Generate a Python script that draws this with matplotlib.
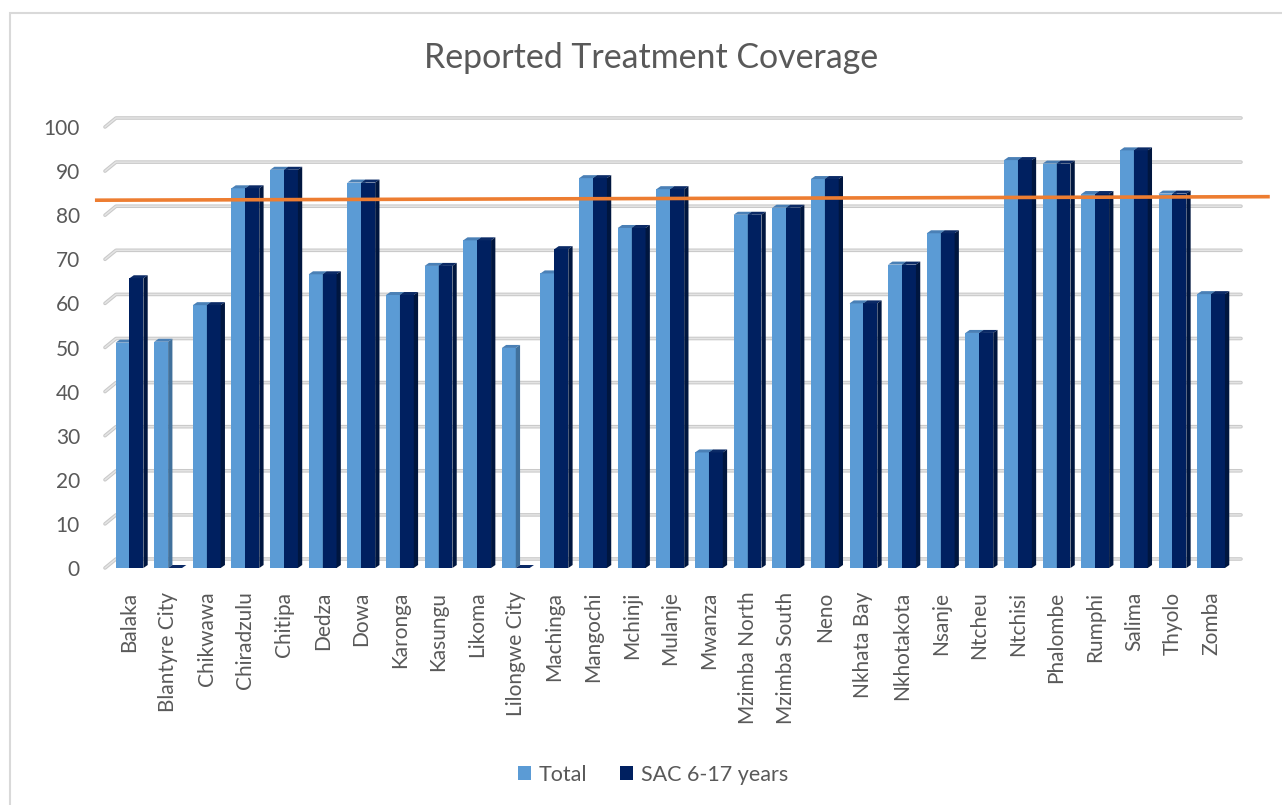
import matplotlib
matplotlib.use("Agg")
import matplotlib.pyplot as plt
from matplotlib.patches import Polygon, Rectangle, Patch
import numpy as np

plt.rcParams['font.family'] = ['Lato', 'DejaVu Sans']

districts = [
    "Balaka", "Blantyre City", "Chikwawa", "Chiradzulu", "Chitipa", "Dedza",
    "Dowa", "Karonga", "Kasungu", "Likoma", "Lilongwe City", "Machinga",
    "Mangochi", "Mchinji", "Mulanje", "Mwanza", "Mzimba North", "Mzimba South",
    "Neno", "Nkhata Bay", "Nkhotakota", "Nsanje", "Ntcheu", "Ntchisi",
    "Phalombe", "Rumphi", "Salima", "Thyolo", "Zomba",
]
total = [
    51.1, 51.3, 59.6, 86.1, 90.3, 66.6,
    87.4, 61.9, 68.5, 74.3, 49.9, 66.8,
    88.4, 77.1, 85.9, 26.2, 80.1, 81.7,
    88.2, 60.0, 68.8, 75.9, 53.3, 92.5,
    91.7, 84.8, 94.7, 84.9, 62.1,
]
sac = [
    65.7, 0.0, 59.6, 86.1, 90.3, 66.6,
    87.4, 61.9, 68.5, 74.3, 0.0, 72.3,
    88.4, 77.1, 85.9, 26.2, 80.1, 81.7,
    88.2, 60.0, 68.8, 75.9, 53.3, 92.5,
    91.7, 84.8, 94.7, 84.9, 62.1,
]
series_names = ["Total", "SAC 6-17 years"]
y_ticks = [0, 10, 20, 30, 40, 50, 60, 70, 80, 90, 100]
target_line = [83.4, 84.2]  # hand-drawn reference line (left end, right end)

W, H = 1282, 805
fig = plt.figure(figsize=(W / 100, H / 100), dpi=100)
fig.patch.set_facecolor("white")

# chart-area border (left and top edges visible)
fig.patches.append(Rectangle((10 / W, -0.02), 1.2, (H - 13) / H + 0.02,
                             transform=fig.transFigure, fill=False,
                             edgecolor="#d9d9d9", linewidth=1.5))

ax_left, ax_right = 105 / W, 1230 / W
ax_bottom, ax_top = (H - 568) / H, (H - 127) / H
ax = fig.add_axes([ax_left, ax_bottom, ax_right - ax_left, ax_top - ax_bottom])
ax.set_xlim(-0.634, 28.49)
ax.set_ylim(0, 100)
for s in ax.spines.values():
    s.set_visible(False)
ax.patch.set_visible(False)

text_col = "#595959"
x = np.arange(len(districts))
bw = 0.36

# pixel -> data conversions for the 3D depth offsets
px_x = (ax.get_xlim()[1] - ax.get_xlim()[0]) / (W * (ax_right - ax_left))
px_y = 100 / (H * (ax_top - ax_bottom))

# back-wall gridlines with depth stubs
wall_dx, wall_dy = 11 * px_x, 9 * px_y
x0, x1 = ax.get_xlim()
for v in y_ticks:
    for col, lw in (("#c9c9c9", 2.6), ("#e4e4e4", 1.1)):
        ax.plot([x0, x0 + wall_dx, x1 + wall_dx], [v, v + wall_dy, v + wall_dy],
                color=col, lw=lw, solid_capstyle="round", zorder=0.5,
                clip_on=False)

bar_dx, bar_dy = 4.3 * px_x, 3.0 * px_y


def draw_bars(xs, vals, front, top, side, z):
    ax.bar(xs, vals, width=bw, color=front, zorder=z, linewidth=0)
    for xc, v in zip(xs, vals):
        l, r = xc - bw / 2, xc + bw / 2
        ax.add_patch(Polygon([(l, v), (r, v), (r + bar_dx, v + bar_dy),
                              (l + bar_dx, v + bar_dy)], closed=True,
                             facecolor=top, edgecolor="none", zorder=z))
        ax.add_patch(Polygon([(r, 0), (r, v), (r + bar_dx, v + bar_dy),
                              (r + bar_dx, bar_dy)], closed=True,
                             facecolor=side, edgecolor="none", zorder=z))


c_total = "#5b9bd5"
c_sac = "#002060"
draw_bars(x - bw / 2, total, c_total, "#4a80b6", "#41719c", 2)
draw_bars(x + bw / 2, sac, c_sac, "#0b2a66", "#00163f", 3)

# target line
ax.plot([x0 - 0.26, x1 + 1.03], target_line, color="#ed7d31", lw=2.6,
        zorder=5, clip_on=False, solid_capstyle="butt")

ax.set_yticks(y_ticks)
ax.set_yticklabels([str(t) for t in y_ticks])
ax.set_xticks(x)
ax.set_xticklabels(districts, rotation=90)
ax.tick_params(axis="y", length=0, pad=18, labelsize=15, labelcolor=text_col)
ax.tick_params(axis="x", length=0, pad=17, labelsize=15, labelcolor=text_col)

fig.text(651 / W, (H - 58) / H, "Reported Treatment Coverage", ha="center",
         va="center", fontsize=24.4, color=text_col)

handles = [Patch(facecolor=c_total, edgecolor="none"),
           Patch(facecolor=c_sac, edgecolor="none")]
fig.legend(handles, series_names, loc="center", ncol=2,
           bbox_to_anchor=(653 / W, (H - 775) / H), frameon=False,
           fontsize=15.5, labelcolor=text_col, handlelength=0.62,
           handleheight=0.62, handletextpad=0.35, columnspacing=1.5)

fig.savefig("out.png", dpi=100, facecolor="white")
